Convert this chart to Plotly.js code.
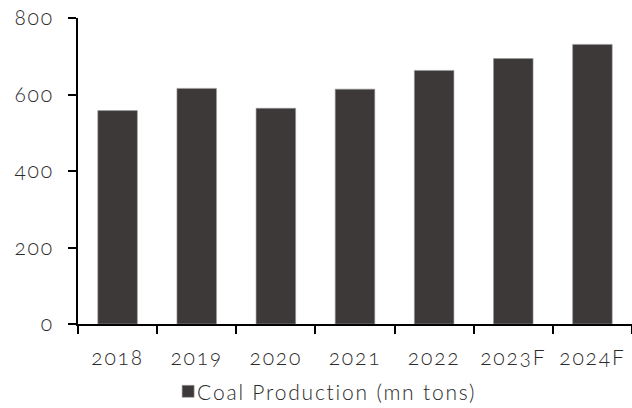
<!DOCTYPE html>
<html>
<head>
<meta charset="utf-8">
<script src="https://cdn.plot.ly/plotly-3.0.1.min.js"></script>
<style>
html,body{margin:0;padding:0;background:#fff;}
#chart{width:632px;height:408px;}
text{font-variant-numeric:oldstyle-nums;font-feature-settings:"onum" 1;letter-spacing:1.8px;}
.legend .legendtext{transform:translate(-11px,0);}
</style>
</head>
<body>
<div id="chart"></div>
<script>
const years = ["2018","2019","2020","2021","2022","2023F","2024F"];
const production = [558, 616, 564, 614, 663, 694, 731];
const seriesName = "Coal Production (mn tons)";
const yTicks = [0, 200, 400, 600, 800];

const trace = {
  type: "bar",
  x: years,
  y: production,
  name: seriesName,
  marker: {color: "#3d3939", line: {color: "#9a9a9a", width: 0.6}},
  showlegend: true
};

const font = {family: "Lato, 'Noto Sans', sans-serif", size: 21, color: "#2a2a2a", weight: 300};

const layout = {
  width: 632, height: 408,
  margin: {l: 78, r: 0, t: 18, b: 84, pad: 0, autoexpand: false},
  paper_bgcolor: "#fff", plot_bgcolor: "#fff",
  font: font,
  bargap: 0.5,
  showlegend: true,
  legend: {orientation: "h", x: 0.456, xanchor: "center", xref: "paper",
           y: 0.04, yanchor: "middle", yref: "container",
           font: font, bgcolor: "rgba(0,0,0,0)", itemwidth: 30},
  xaxis: {
    type: "category", automargin: false,
    showline: true, linecolor: "#000", linewidth: 2,
    ticks: "outside", ticklen: 8, tickwidth: 2, tickcolor: "#000",
    tickson: "boundaries",
    showgrid: false, zeroline: false,
    ticklabelstandoff: 14,
    tickfont: font
  },
  yaxis: {
    range: [0, 800], tickvals: yTicks, automargin: false,
    showline: true, linecolor: "#000", linewidth: 2,
    ticks: "outside", ticklen: 8, tickwidth: 2, tickcolor: "#000",
    showgrid: false, zeroline: false,
    ticklabelstandoff: 10,
    tickfont: font
  }
};

Plotly.newPlot("chart", [trace], layout, {displayModeBar: false, staticPlot: true});
</script>
</body>
</html>
